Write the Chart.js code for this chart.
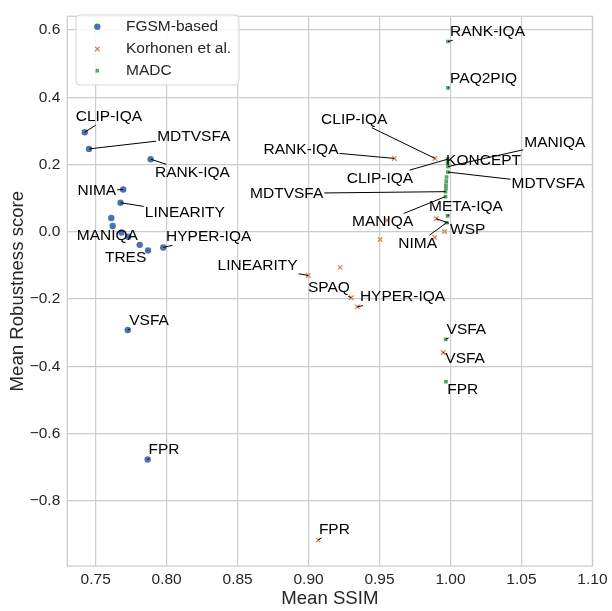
<!DOCTYPE html>
<html><head><meta charset="utf-8">
<script src="https://cdn.jsdelivr.net/npm/chart.js@4.4.0/dist/chart.umd.min.js"></script>
<style>html,body{margin:0;padding:0;background:#fff;}#wrap{width:612px;height:611px;}</style>
</head><body><div id="wrap"><canvas id="c" width="612" height="611"></canvas></div>
<script>
// ---- data ----
const seriesNames = ['FGSM-based', 'Korhonen et al.', 'MADC'];
const fgsmX = [0.7423, 0.7453, 0.7887, 0.7694, 0.7675, 0.7610, 0.7620, 0.7682, 0.7729, 0.7810, 0.7869, 0.7976, 0.7726, 0.7866];
const fgsmY = [0.296, 0.2466, 0.216, 0.126, 0.0865, 0.041, 0.0175, -0.002, -0.0146, -0.0388, -0.0553, -0.0466, -0.292, -0.6774];
const korX = [0.9604, 0.9891, 0.9552, 0.9900, 0.9958, 0.9888, 0.9504, 0.9223, 0.8998, 0.9301, 0.9343, 0.9949, 0.9068];
const korY = [0.2183, 0.2183, 0.034, 0.039, 0.001, -0.0166, -0.023, -0.1058, -0.130, -0.196, -0.2232, -0.359, -0.917];
const madcX = [0.9982, 0.9982, 0.9980, 0.9980, 0.9982, 0.9982, 0.9972, 0.9970, 0.9968, 0.9968, 0.9965, 0.9965, 0.9979, 0.9972, 0.9966, 0.9968];
const madcY = [0.566, 0.428, 0.216, 0.205, 0.194, 0.1776, 0.163, 0.1505, 0.1389, 0.129, 0.1194, 0.1048, 0.0475, 0.027, -0.320, -0.446];
const xTicks = [0.75, 0.80, 0.85, 0.90, 0.95, 1.00, 1.05, 1.10];
const yTicks = [-0.8, -0.6, -0.4, -0.2, 0.0, 0.2, 0.4, 0.6];

// annotation texts: series index, point index, text
const annSeries = [0,0,0,0,0,0,0,0,0,0, 1,1,1,1,1,1,1,1, 2,2,2,2,2,2,2,2,2,2,2,2];
const annPoint  = [0,1,2,3,4,8,10,11,12,13, 1,0,8,9,10,11,12,3, 0,1,2,3,4,5,10,11,12,13,14,15];
const annText = ['CLIP-IQA','MDTVSFA','RANK-IQA','NIMA','LINEARITY','MANIQA','TRES','HYPER-IQA','VSFA','FPR',
  'CLIP-IQA','RANK-IQA','LINEARITY','SPAQ','HYPER-IQA','VSFA','FPR','WSP',
  'RANK-IQA','PAQ2PIQ','CLIP-IQA','KONCEPT','MANIQA','MDTVSFA','MDTVSFA','MANIQA','META-IQA','NIMA','VSFA','FPR'];
// annotation text centres (data units)
const annX = [0.7593,0.8191,0.8182,0.7508,0.8128,0.7582,0.7711,0.8296,0.7876,0.7981,
  0.9322,0.8947,0.8641,0.9143,0.9662,1.0103,0.9182,1.0121,
  1.0261,1.0233,0.9503,1.0233,1.0735,1.0688,0.8846,0.9522,1.0109,0.9769,1.0112,1.0086];
const annY = [0.3426,0.2824,0.1755,0.1214,0.0562,-0.0102,-0.0757,-0.0146,-0.264,-0.649,
  0.3348,0.2437,-0.1019,-0.1668,-0.1942,-0.3785,-0.885,0.0058,
  0.5948,0.4541,0.1581,0.2116,0.2649,0.1435,0.1144,0.0291,0.0757,-0.0358,-0.2902,-0.4696];

const toPts = (xs, ys) => xs.map((x, i) => ({x: x, y: ys[i]}));
const FONT = '"Liberation Sans", Arial, Helvetica, sans-serif';
const TXT = '#262626';

const annotatePlugin = {
  id: 'annotate',
  beforeDatasetsDraw(chart) {
    const {ctx, chartArea: a} = chart;
    ctx.save();
    ctx.strokeStyle = '#cccccc';
    ctx.lineWidth = 1.25;
    ctx.strokeRect(a.left, a.top, a.right - a.left, a.bottom - a.top);
    ctx.restore();
  },
  afterDatasetsDraw(chart) {
    const {ctx} = chart;
    const xs = chart.scales.x, ys = chart.scales.y;
    const fs = 15.5;
    ctx.save();
    ctx.font = fs + 'px ' + FONT;
    ctx.textAlign = 'center';
    ctx.textBaseline = 'middle';
    for (let k = 0; k < annText.length; k++) {
      const el = chart.getDatasetMeta(annSeries[k]).data[annPoint[k]];
      const px = el.x, py = el.y;
      const cx = xs.getPixelForValue(annX[k]), cy = ys.getPixelForValue(annY[k]);
      const w = ctx.measureText(annText[k]).width;
      const hw = w / 2 + 1, hh = fs * 0.55;
      const dx = px - cx, dy = py - cy;
      let s = Infinity;
      if (Math.abs(dx) > 1e-6) s = Math.min(s, hw / Math.abs(dx));
      if (Math.abs(dy) > 1e-6) s = Math.min(s, hh / Math.abs(dy));
      if (s < 1) {
        ctx.beginPath();
        ctx.strokeStyle = '#000';
        ctx.lineWidth = 1;
        ctx.moveTo(cx + s * dx, cy + s * dy);
        ctx.lineTo(px, py);
        ctx.stroke();
      }
      ctx.fillStyle = '#000';
      ctx.fillText(annText[k], cx, cy);
    }
    ctx.restore();
  },
  afterDraw(chart) {
    const {ctx} = chart;
    ctx.save();
    const bx = 76, by = 15, bw = 163, bh = 70, r = 4;
    ctx.beginPath();
    ctx.moveTo(bx + r, by);
    ctx.arcTo(bx + bw, by, bx + bw, by + bh, r);
    ctx.arcTo(bx + bw, by + bh, bx, by + bh, r);
    ctx.arcTo(bx, by + bh, bx, by, r);
    ctx.arcTo(bx, by, bx + bw, by, r);
    ctx.closePath();
    ctx.fillStyle = 'rgba(255,255,255,0.85)';
    ctx.fill();
    ctx.strokeStyle = '#d6d6d6';
    ctx.lineWidth = 1;
    ctx.stroke();
    const rows = [26.7, 49.0, 70.7];
    chart.data.datasets.forEach((ds, i) => {
      ctx.fillStyle = ds.backgroundColor;
      ctx.strokeStyle = ds.borderColor;
      ctx.lineWidth = ds.borderWidth;
      Chart.helpers.drawPoint(ctx, {pointStyle: ds.pointStyle, radius: ds.pointRadius, borderWidth: ds.borderWidth, rotation: 0}, 97.3, rows[i]);
      ctx.fillStyle = TXT;
      ctx.font = '15.5px ' + FONT;
      ctx.textAlign = 'left';
      ctx.textBaseline = 'middle';
      ctx.fillText(ds.label, 126, rows[i]);
    });
    ctx.restore();
  }
};

new Chart(document.getElementById('c'), {
  type: 'scatter',
  data: {
    datasets: [
      {label: seriesNames[0], data: toPts(fgsmX, fgsmY), pointStyle: 'circle', pointRadius: 3.2, backgroundColor: '#4c72b0', borderColor: '#4c72b0', borderWidth: 0},
      {label: seriesNames[1], data: toPts(korX, korY), pointStyle: 'crossRot', pointRadius: 3.2, backgroundColor: '#dd8452', borderColor: '#dd8452', borderWidth: 1.3},
      {label: seriesNames[2], data: toPts(madcX, madcY), pointStyle: 'rect', pointRadius: 2.6, backgroundColor: '#55a868', borderColor: '#55a868', borderWidth: 0}
    ]
  },
  options: {
    responsive: false,
    animation: false,
    devicePixelRatio: 1,
    layout: {padding: {top: 6, right: 16.3, left: 0, bottom: 0}},
    plugins: {legend: {display: false}, tooltip: {enabled: false}},
    scales: {
      x: {
        type: 'linear', min: 0.73, max: 1.10,
        afterBuildTicks: s => { s.ticks = xTicks.map(v => ({value: v})); },
        afterFit: s => { s.height = 45; },
        ticks: {callback: v => Number(v).toFixed(2), color: TXT, font: {family: FONT, size: 15.5}, padding: 4.5},
        grid: {color: '#cccccc', lineWidth: 1.2, drawTicks: false},
        border: {display: false},
        title: {display: true, text: 'Mean SSIM', color: TXT, font: {family: FONT, size: 18.6}, padding: {top: 0, bottom: 1.3}}
      },
      y: {
        type: 'linear', min: -0.994, max: 0.641,
        afterBuildTicks: s => { s.ticks = yTicks.map(v => ({value: v})); },
        afterFit: s => { s.width = 67.3; },
        ticks: {callback: v => (v < -1e-9 ? '\u2212' : '') + Math.abs(v).toFixed(1), color: TXT, font: {family: FONT, size: 15.5}, padding: 7},
        grid: {color: '#cccccc', lineWidth: 1.2, drawTicks: false},
        border: {display: false},
        title: {display: true, text: 'Mean Robustness score', color: TXT, font: {family: FONT, size: 18.6}, padding: {top: 6.5, bottom: 0}}
      }
    }
  },
  plugins: [annotatePlugin]
});
</script>
</body></html>
